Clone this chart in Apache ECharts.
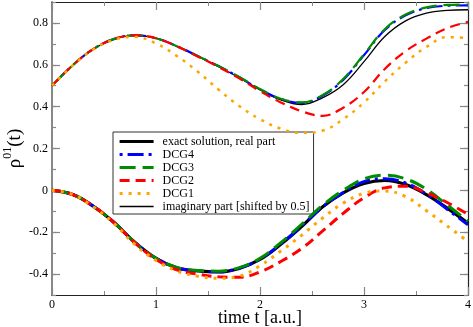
<!DOCTYPE html>
<html>
<head>
<meta charset="utf-8">
<script src="https://cdn.jsdelivr.net/npm/echarts@6/dist/echarts.min.js"></script>
<style>html,body{margin:0;padding:0;background:#fff}#c{width:473px;height:327px}</style>
</head>
<body>
<div id="c"></div>
<script>
// time samples
const T = [0.0,0.2,0.4,0.6,0.8,1.0,1.2,1.4,1.6,1.8,2.0,2.2,2.4,2.6,2.8,3.0,3.2,3.4,3.6,3.8,4.0];
// real part (lower group)
const realExact = [0,-0.02,-0.077,-0.155,-0.25,-0.325,-0.37,-0.385,-0.39,-0.373,-0.33,-0.258,-0.173,-0.08,-0.012,0.033,0.047,0.028,-0.02,-0.085,-0.157];
const realDCG4  = [0,-0.02,-0.077,-0.155,-0.25,-0.325,-0.37,-0.385,-0.389,-0.372,-0.329,-0.256,-0.17,-0.08,-0.01,0.042,0.056,0.035,-0.018,-0.09,-0.165];
const realDCG3  = [0,-0.02,-0.077,-0.155,-0.25,-0.325,-0.368,-0.383,-0.386,-0.369,-0.325,-0.25,-0.163,-0.072,0.0,0.055,0.072,0.055,0.005,-0.07,-0.148];
const realDCG2  = [0,-0.02,-0.077,-0.155,-0.252,-0.33,-0.38,-0.40,-0.413,-0.415,-0.39,-0.34,-0.278,-0.195,-0.11,-0.035,0.012,0.02,-0.012,-0.058,-0.115];
const realDCG1  = [0,-0.02,-0.08,-0.16,-0.26,-0.335,-0.385,-0.41,-0.42,-0.41,-0.36,-0.29,-0.215,-0.133,-0.061,-0.014,-0.003,-0.03,-0.097,-0.17,-0.245];
// imaginary part shifted by 0.5 (upper group)
const imagExact = [0.5,0.598,0.676,0.724,0.741,0.727,0.688,0.641,0.592,0.538,0.48,0.432,0.41,0.442,0.505,0.615,0.735,0.81,0.847,0.86,0.863];
const imagDCG4  = [0.5,0.598,0.676,0.724,0.741,0.727,0.689,0.642,0.594,0.541,0.483,0.437,0.418,0.452,0.528,0.646,0.766,0.836,0.871,0.882,0.884];
const imagDCG3  = [0.5,0.598,0.676,0.724,0.741,0.727,0.689,0.642,0.594,0.542,0.484,0.438,0.42,0.455,0.532,0.65,0.77,0.84,0.874,0.886,0.888];
const imagDCG2  = [0.5,0.598,0.676,0.724,0.741,0.727,0.688,0.64,0.59,0.535,0.474,0.42,0.378,0.356,0.395,0.47,0.58,0.665,0.725,0.775,0.805];
const imagDCG1  = [0.5,0.597,0.674,0.72,0.733,0.702,0.642,0.568,0.482,0.403,0.34,0.295,0.275,0.285,0.34,0.42,0.52,0.61,0.685,0.732,0.728];
// tick labels
const xTicks = [0,1,2,3,4];
const yMajor = [-0.4,-0.2,0,0.2,0.4,0.6,0.8];

const FONT = 'Liberation Serif';
const pair = a => T.map((t,i)=>[t,a[i]]);

const styles = {
  exact: {color:'#000000', width:3.2, type:'solid'},
  imag:  {color:'#000000', width:1.3, type:'solid'},
  dcg4:  {color:'#0000ff', width:3, type:[3,5,16,5]},
  dcg3:  {color:'#008c00', width:3, type:[16,7]},
  dcg2:  {color:'#ff0000', width:3, type:[10,6]},
  dcg1:  {color:'#ffa500', width:3, type:[3,6]}
};
function mk(name, data, st, w, z){
  return {
    name, type:'line', data: pair(data), smooth: 0.4, symbol:'none', showSymbol:false,
    z, lineStyle:{color:st.color, width:(w||st.width), type:st.type, cap:'butt'},
    itemStyle:{color:st.color}, emphasis:{disabled:true}
  };
}

const chart = echarts.init(document.getElementById('c'), null, {renderer:'canvas'});
const tickColor = '#888888';
const common = {min:0, max:4, interval:1};
chart.setOption({
  animation:false,
  backgroundColor:'#ffffff',
  grid:{left:52, right:5, top:2, bottom:32, outerBoundsMode:'none', containLabel:false},
  legend:{
    orient:'vertical', left:113, top:132,
    data:['exact solution, real part','DCG4','DCG3','DCG2','DCG1','imaginary part [shifted by 0.5]'],
    backgroundColor:'#ffffff', borderColor:'#333333', borderWidth:1,
    padding:[3,4,1,5], itemGap:0, itemWidth:34, itemHeight:10,
    itemStyle:{opacity:0},
    lineStyle:{width:'inherit'},
    textStyle:{fontFamily:FONT, fontSize:12, color:'#000', lineHeight:13, padding:[0,0,0,4]},
    selectedMode:false
  },
  xAxis:[
    {type:'value', position:'bottom', ...common,
     name:'time t [a.u.]', nameLocation:'middle', nameGap:14, nameMoveOverlap:false,
     nameTextStyle:{fontFamily:FONT, fontSize:18, color:'#000'},
     axisLine:{onZero:false, lineStyle:{color:'#222', width:1.2}},
     axisTick:{inside:true, length:8, lineStyle:{color:tickColor, width:1.2}},
     minorTick:{show:true, splitNumber:2, length:4, lineStyle:{color:tickColor, width:1}},
     axisLabel:{margin:4, fontFamily:FONT, fontSize:12, color:'#000', formatter:v=>String(v)},
     splitLine:{show:false}, minorSplitLine:{show:false}},
    {type:'value', position:'top', ...common,
     axisLine:{onZero:false, lineStyle:{color:'#222', width:1.2}},
     axisTick:{inside:true, length:8, lineStyle:{color:tickColor, width:1.2}},
     minorTick:{show:true, splitNumber:2, length:4, lineStyle:{color:tickColor, width:1}},
     axisLabel:{show:false}, splitLine:{show:false}}
  ],
  yAxis:[
    {type:'value', position:'left', min:-0.5, max:0.9, interval:0.1,
     name:'{r|ρ}{s|01}{r|(t)}', nameLocation:'middle', nameRotate:90, nameGap:24, nameMoveOverlap:false,
     nameTextStyle:{fontFamily:FONT, color:'#000', rich:{
       r:{fontFamily:FONT, fontSize:19, color:'#000'},
       s:{fontFamily:FONT, fontSize:12, color:'#000', padding:[0,0,14,0]}}},
     axisLine:{onZero:false, lineStyle:{color:'#888', width:2}},
     axisTick:{inside:true, length:4, lineStyle:{color:tickColor, width:1.2}},
     axisLabel:{margin:4, fontFamily:FONT, fontSize:12, color:'#000',
       formatter:v=>{const k=Math.round(v*10); if(Math.abs(k)%2!==0) return ''; return k===0?'0':(k/10).toFixed(1);}},
     splitLine:{show:false}},
    {type:'value', position:'left', min:-0.5, max:0.9,
     axisLine:{show:false, onZero:false},
     axisTick:{show:true, inside:true, length:8, customValues:yMajor, lineStyle:{color:tickColor, width:1.2}},
     axisLabel:{show:false}, splitLine:{show:false}},
    {type:'value', position:'right', min:-0.5, max:0.9, interval:0.1,
     axisLine:{show:true, onZero:false, lineStyle:{color:'#222', width:1.2}},
     axisTick:{inside:true, length:4, lineStyle:{color:tickColor, width:1.2}},
     axisLabel:{show:false}, splitLine:{show:false}},
    {type:'value', position:'right', min:-0.5, max:0.9,
     axisLine:{show:false, onZero:false},
     axisTick:{show:true, inside:true, length:8, customValues:yMajor, lineStyle:{color:tickColor, width:1.2}},
     axisLabel:{show:false}, splitLine:{show:false}}
  ],
  series:[
    mk('exact solution, real part', realExact, styles.exact, null, 2),
    mk('DCG4', realDCG4, styles.dcg4, null, 3),
    mk('DCG3', realDCG3, styles.dcg3, null, 4),
    mk('DCG2', realDCG2, styles.dcg2, null, 5),
    mk('DCG1', realDCG1, styles.dcg1, null, 6),
    mk('imaginary part [shifted by 0.5]', imagExact, styles.imag, null, 2),
    mk('DCG4', imagDCG4, styles.dcg4, 2.2, 3),
    mk('DCG3', imagDCG3, styles.dcg3, 2.2, 4),
    mk('DCG2', imagDCG2, styles.dcg2, 2.2, 5),
    mk('DCG1', imagDCG1, styles.dcg1, 2.5, 6)
  ]
});
</script>
</body>
</html>
